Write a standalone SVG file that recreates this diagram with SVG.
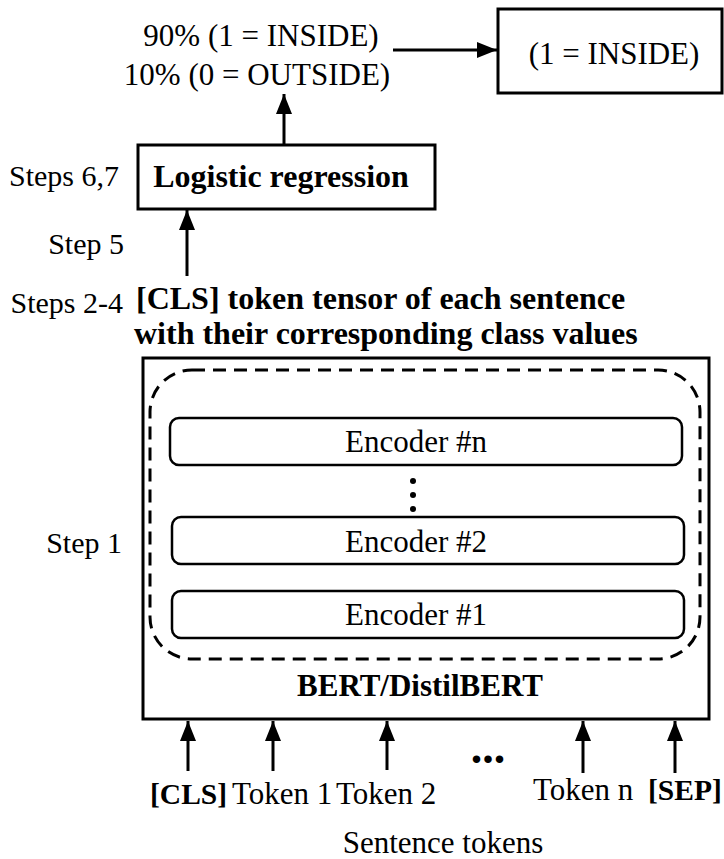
<svg xmlns="http://www.w3.org/2000/svg" width="724" height="859" viewBox="0 0 724 859">
<style>
.r{font-family:"Liberation Serif","Times New Roman",serif;font-size:31px;fill:#000}
.b{font-family:"Liberation Serif","Times New Roman",serif;font-size:31px;font-weight:bold;fill:#000}
.box{fill:#fff;stroke:#000;stroke-width:3}
.enc{fill:#fff;stroke:#000;stroke-width:2.5}
.conn{stroke:#000;stroke-width:3;fill:none;marker-end:url(#ah)}
</style>
<defs>
<marker id="ah" markerUnits="userSpaceOnUse" markerWidth="20" markerHeight="16" refX="20" refY="8" orient="auto">
<path d="M0,0 L20,8 L0,16 z" fill="#000"/>
</marker>
</defs>
<rect width="724" height="859" fill="#fff"/>
<g id="output-probs">
<text class="r" x="261" y="46" text-anchor="middle">90% (1 = INSIDE)</text>
<text class="r" x="257" y="85" text-anchor="middle">10% (0 = OUTSIDE)</text>
</g>
<g id="result">
<rect class="box" x="498" y="9" width="224" height="84"/>
<text class="r" x="614" y="64" text-anchor="middle">(1 = INSIDE)</text>
</g>
<g id="logistic">
<rect class="box" x="138" y="145" width="297" height="64"/>
<text class="b" x="281" y="187" text-anchor="middle" style="font-size:32px">Logistic regression</text>
</g>
<g id="step-labels">
<text class="r" x="119" y="186" text-anchor="end" style="font-size:30px">Steps 6,7</text>
<text class="r" x="124" y="254" text-anchor="end" style="font-size:30px">Step 5</text>
<text class="r" x="123" y="313" text-anchor="end" style="font-size:30px">Steps 2-4</text>
<text class="r" x="122" y="553" text-anchor="end" style="font-size:30px">Step 1</text>
</g>
<g id="cls-tensor">
<text class="b" x="136" y="309" style="font-size:32px">[CLS] token tensor of each sentence</text>
<text class="b" x="134" y="344" style="font-size:32px">with their corresponding class values</text>
</g>
<g id="bert">
<rect class="box" x="143" y="358" width="566" height="361"/>
<rect x="150" y="370" width="550" height="289" rx="42" ry="42" fill="none" stroke="#000" stroke-width="3" stroke-dasharray="13 8"/>
<text class="b" x="420" y="696" text-anchor="middle">BERT/DistilBERT</text>
</g>
<g id="encoder-n">
<rect class="enc" x="170" y="418" width="512" height="47" rx="9"/>
<text class="r" x="416" y="452" text-anchor="middle">Encoder #n</text>
</g>
<g id="encoder-dots">
<circle cx="413" cy="481" r="3"/>
<circle cx="413" cy="495" r="3"/>
<circle cx="413" cy="509" r="3"/>
</g>
<g id="encoder-2">
<rect class="enc" x="172" y="517" width="512" height="47" rx="9"/>
<text class="r" x="416" y="552" text-anchor="middle">Encoder #2</text>
</g>
<g id="encoder-1">
<rect class="enc" x="172" y="591" width="512" height="47" rx="9"/>
<text class="r" x="416" y="625" text-anchor="middle">Encoder #1</text>
</g>
<g id="tokens">
<text class="b" x="150" y="804" style="font-size:29.5px">[CLS]</text>
<text class="r" x="232" y="804">Token 1</text>
<text class="r" x="336" y="804">Token 2</text>
<text class="b" x="488" y="763" text-anchor="middle" style="font-size:46px">...</text>
<text class="r" x="533" y="800">Token n</text>
<text class="b" x="648" y="800" style="font-size:29.5px">[SEP]</text>
<text class="r" x="443" y="853" text-anchor="middle">Sentence tokens</text>
</g>
<g id="connectors">
<line class="conn" x1="393" y1="50" x2="497" y2="50"/>
<line class="conn" x1="284" y1="144" x2="284" y2="94"/>
<line class="conn" x1="187" y1="276" x2="187" y2="210"/>
<line class="conn" x1="188" y1="771" x2="188" y2="721"/>
<line class="conn" x1="273" y1="771" x2="273" y2="721"/>
<line class="conn" x1="387" y1="770" x2="387" y2="721"/>
<line class="conn" x1="583" y1="773" x2="583" y2="721"/>
<line class="conn" x1="675" y1="773" x2="675" y2="721"/>
</g>
</svg>
